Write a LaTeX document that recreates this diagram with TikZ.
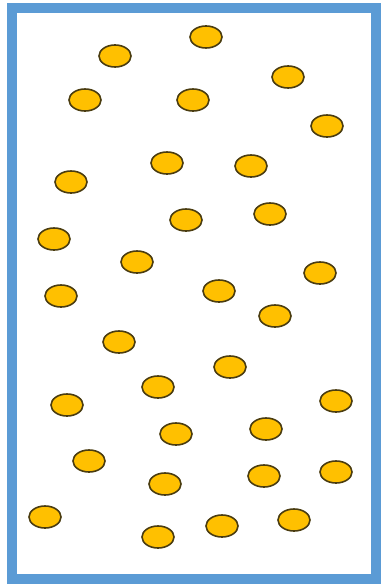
\documentclass[tikz,border=0pt]{standalone}
\definecolor{framblue}{HTML}{5B9BD5}
\definecolor{dotfill}{HTML}{FFC000}
\definecolor{dotline}{HTML}{4A3C10}
\tikzset{dot/.style={draw=dotline,fill=dotfill,line width=1.6pt}}
\begin{document}
\begin{tikzpicture}[x=1pt,y=-1pt]
\useasboundingbox (0,0) rectangle (382,586);
\draw[framblue,line width=10pt] (11.5,8.5) rectangle (375.5,579);
\foreach \px/\py in {115/56,206/37,288/77,85/100,193/100,327/126,
167/163,251/166,71/182,186/220,270/214,54/239,137/262,320/273,
61/296,219/291,275/316,119/342,230/367,158/387,67/405,336/401,
176/434,266/429,89/461,165/484,264/476,336/472,45/517,158/537,
222/526,294/520}{
  \draw[dot] (\px,\py) ellipse [x radius=16,y radius=11];
}
\end{tikzpicture}
\end{document}
